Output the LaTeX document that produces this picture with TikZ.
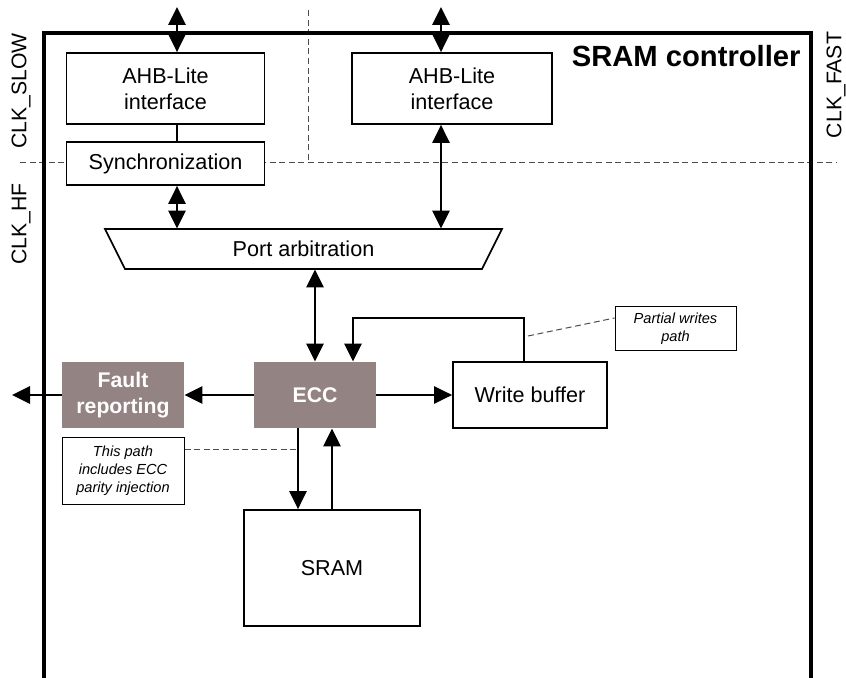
\documentclass[tikz,border=0pt]{standalone}
\usepackage{fontspec}
\setmainfont{Liberation Sans}
\usetikzlibrary{arrows.meta,calc}
\definecolor{eccfill}{RGB}{147,131,130}
\begin{document}
\begin{tikzpicture}[x=0.5pt,y=-0.5pt,
  box/.style={draw=black,line width=0.85pt,fill=white,inner sep=0pt,align=center,font=\fontsize{10.8}{13}\selectfont},
  dark/.style={fill=eccfill,inner sep=0pt,align=center,text=white,font=\fontsize{10.6}{13}\selectfont\bfseries},
  note/.style={draw=black,line width=0.5pt,fill=white,inner sep=0pt,align=center,font=\fontsize{7.3}{8.9}\selectfont\itshape},
  arr/.style={line width=1.35pt,-{Triangle[length=9pt,width=8.5pt]}},
  dbl/.style={line width=1.35pt,{Triangle[length=9pt,width=8.5pt]}-{Triangle[length=9pt,width=8.5pt]}},
  plain/.style={line width=0.85pt},
  clk/.style={dash pattern=on 3pt off 1.8pt,line width=0.5pt,draw=black!70},
  clklabel/.style={rotate=90,inner sep=0pt,font=\fontsize{10.6}{13}\selectfont},
]
\useasboundingbox (0,0) rectangle (846,678);

% clock domain boundaries
\draw[clk] (20,163) -- (837,163);
\draw[clk] (308,10) -- (308,163);

% outer SRAM controller border
\draw[line width=1.8pt] (44,678) -- (44,33) -- (811,33) -- (811,678);
\node[anchor=base east,inner sep=0pt,font=\fontsize{14.6}{17}\selectfont\bfseries] (title) at (801,67) {SRAM controller};

% clock labels
\node[clklabel] (clkslow) at (21,91) {CLK\_SLOW};
\node[clklabel] (clkhf) at (21,224) {CLK\_HF};
\node[clklabel] (clkfast) at (836,85) {CLK\_FAST};

% blocks
\node[box,minimum width=99pt,minimum height=35.5pt] (ahbL) at (165.5,88.5) {AHB-Lite\\interface};
\node[box,minimum width=99pt,minimum height=21.5pt] (sync) at (165.5,163.5) {Synchronization};
\node[box,minimum width=100pt,minimum height=35.5pt] (ahbR) at (452,88.5) {AHB-Lite\\interface};

\draw[line width=0.85pt,fill=white] (105,229) -- (502,229) -- (482,269) -- (125,269) -- cycle;
\node[inner sep=0pt,minimum width=178.5pt,minimum height=20pt,font=\fontsize{10.8}{13}\selectfont] (port) at (303.5,249) {Port arbitration};

\node[dark,minimum width=61pt,minimum height=33pt] (ecc) at (315,395) {ECC};
\node[dark,minimum width=61pt,minimum height=33pt] (fault) at (123,395) {Fault\\reporting};
\node[box,minimum width=77pt,minimum height=33pt] (wbuf) at (530,395) {Write buffer};
\node[box,minimum width=88pt,minimum height=58pt] (sram) at (332,568) {SRAM};

\node[note,minimum width=60.5pt,minimum height=22pt] (note1) at (675.5,329) {Partial writes\\path};
\node[note,minimum width=61pt,minimum height=33pt] (note2) at (123,471) {This path\\includes ECC\\parity injection};

% external ports
\coordinate (extL) at (177,7);
\coordinate (extR) at (441,7);
\coordinate (faultout) at (12,395);
\coordinate (fbtop) at (524,318);
\coordinate (wbtap) at (528,336);
\coordinate (ecctap) at (298,450);

% connectors
\draw[dbl] (extL) -- (extL |- ahbL.north);
\draw[dbl] (extR) -- (extR |- ahbR.north);
\draw[plain] (extL |- ahbL.south) -- (extL |- sync.north);
\draw[dbl] (extL |- sync.south) -- (extL |- port.north);
\draw[dbl] (extR |- ahbR.south) -- (extR |- port.north);
\draw[dbl] (ecc.north |- port.south) -- (ecc.north);
\draw[arr] (ecc.west) -- (fault.east);
\draw[arr] (fault.west) -- (faultout);
\draw[arr] (ecc.east) -- (ecc.east -| wbuf.west);
\draw[arr] (wbuf.north -| fbtop) -- (fbtop) -| ($(ecc.north)+(38,0)$);
\draw[arr] (ecctap |- ecc.south) -- (ecctap |- sram.north);
\draw[arr] (sram.north) -- (sram.north |- ecc.south);

% callout leaders
\draw[clk] (wbtap) -- ([yshift=5.5pt]note1.west);
\draw[clk] ([yshift=10.5pt]note2.east) -- (ecctap);
\end{tikzpicture}
\end{document}
